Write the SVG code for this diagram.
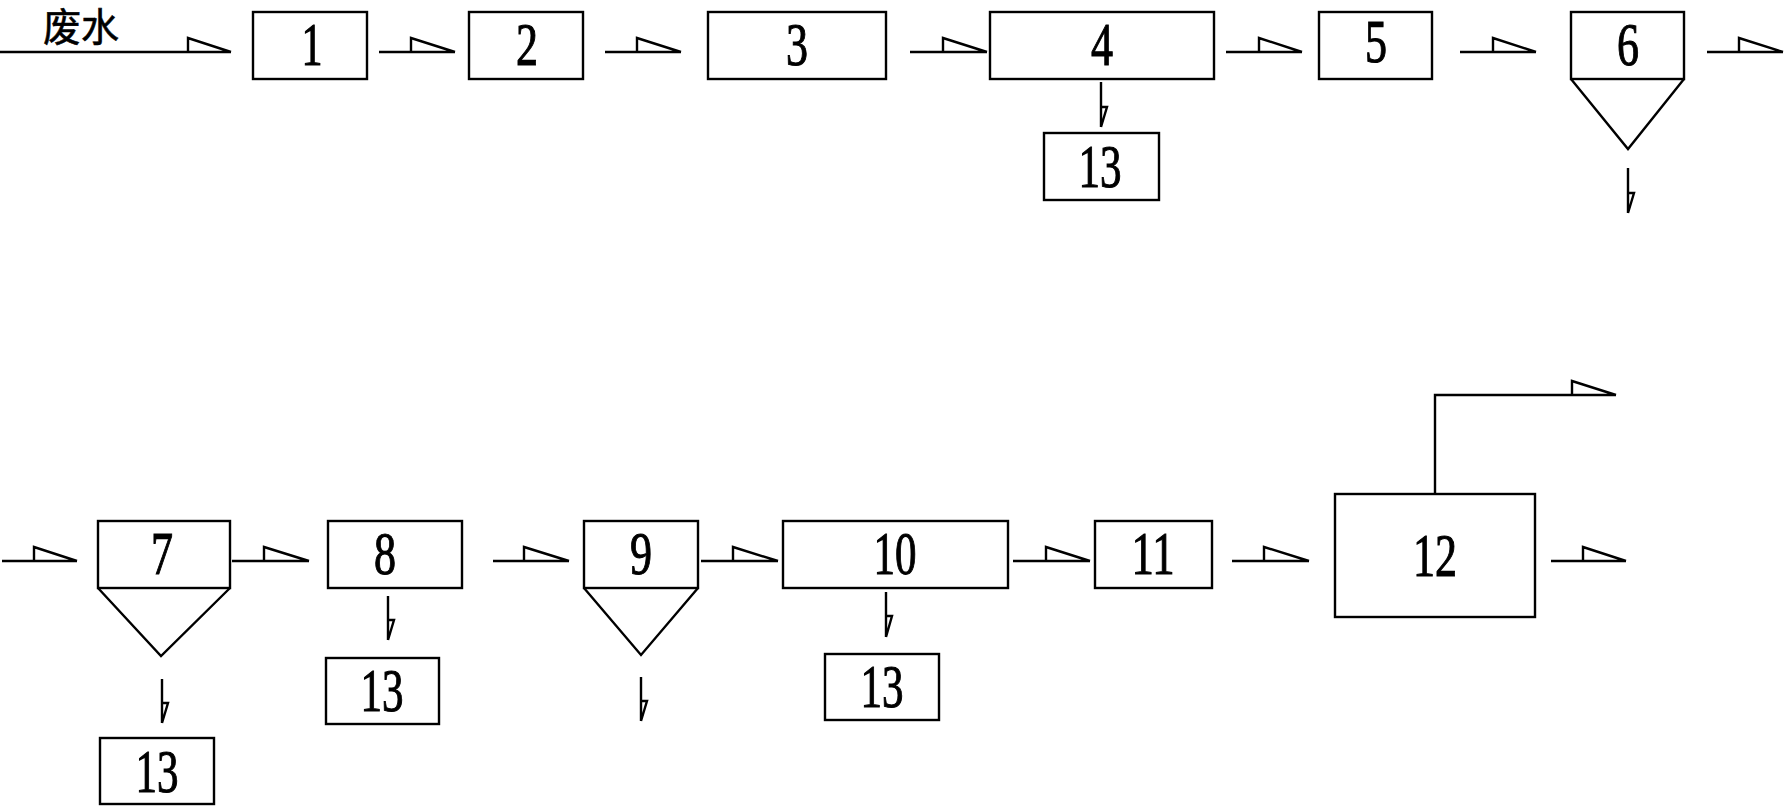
<svg xmlns="http://www.w3.org/2000/svg" width="1784" height="807" viewBox="0 0 1784 807">
<style>
  .box{fill:#fff;stroke:#000;stroke-width:2.4}
  .fun{fill:none;stroke:#000;stroke-width:2.4;stroke-linejoin:miter}
  .con{fill:none;stroke:#000;stroke-width:2.4;stroke-linejoin:miter;stroke-linecap:butt}
  .num{font-family:"Liberation Serif","Times New Roman",serif;font-size:62px;fill:#000;stroke:#000;stroke-width:1.1;text-anchor:middle}
  .cn{font-family:"Noto Sans CJK SC","Noto Sans",sans-serif;font-size:39px;fill:#000;stroke:#000;stroke-width:0.6}
</style>
<rect width="1784" height="807" fill="#fff"/>
<text class="cn" x="43" y="41" textLength="76" lengthAdjust="spacingAndGlyphs">废水</text>
<g id="connectors">
  <path class="con" d="M0 52H231M188 52V38L231 52"/>
  <path class="con" d="M379 52H455M411 52V38L455 52"/>
  <path class="con" d="M605 52H681M637 52V38L681 52"/>
  <path class="con" d="M910 52H987M943 52V38L987 52"/>
  <path class="con" d="M1226 52H1302M1259 52V38L1302 52"/>
  <path class="con" d="M1460 52H1536M1493 52V38L1536 52"/>
  <path class="con" d="M1707 52H1783M1739 52V38L1783 52"/>
  <path class="con" d="M1101 82V127M1101 107H1107L1101 127"/>
  <path class="con" d="M1628 168V213M1628 193H1634L1628 213"/>
  <path class="con" d="M2 561H77M34 561V547L77 561"/>
  <path class="con" d="M232 561H309M264 561V547L309 561"/>
  <path class="con" d="M493 561H569M524 561V547L569 561"/>
  <path class="con" d="M701 561H778M733 561V547L778 561"/>
  <path class="con" d="M1013 561H1090M1046 561V547L1090 561"/>
  <path class="con" d="M1232 561H1309M1264 561V547L1309 561"/>
  <path class="con" d="M1551 561H1626M1583 561V547L1626 561"/>
  <path class="con" d="M1435 494V395H1616M1572 395V381L1616 395"/>
  <path class="con" d="M162 679V723M162 703H168L162 723"/>
  <path class="con" d="M388 596V640M388 620H394L388 640"/>
  <path class="con" d="M641 677V721M641 701H647L641 721"/>
  <path class="con" d="M886 592V637M886 616H892L886 637"/>
</g>
<g id="n1"><rect class="box" x="253" y="12" width="114" height="67"/><text class="num" x="312" y="65" textLength="21" lengthAdjust="spacingAndGlyphs">1</text></g>
<g id="n2"><rect class="box" x="469" y="12" width="114" height="67"/><text class="num" x="527" y="65" textLength="22" lengthAdjust="spacingAndGlyphs">2</text></g>
<g id="n3"><rect class="box" x="708" y="12" width="178" height="67"/><text class="num" x="797" y="65" textLength="22" lengthAdjust="spacingAndGlyphs">3</text></g>
<g id="n4"><rect class="box" x="990" y="12" width="224" height="67"/><text class="num" x="1102" y="65" textLength="22" lengthAdjust="spacingAndGlyphs">4</text></g>
<g id="n13a"><rect class="box" x="1044" y="133" width="115" height="67"/><text class="num" x="1100" y="187" textLength="43" lengthAdjust="spacingAndGlyphs">13</text></g>
<g id="n5"><rect class="box" x="1319" y="12" width="113" height="67"/><text class="num" x="1376" y="62" textLength="22" lengthAdjust="spacingAndGlyphs">5</text></g>
<g id="n6"><rect class="box" x="1571" y="12" width="113" height="67"/><path class="fun" d="M1571 79L1628 149L1684 79"/><text class="num" x="1628" y="65" textLength="22" lengthAdjust="spacingAndGlyphs">6</text></g>
<g id="n7"><rect class="box" x="98" y="521" width="132" height="67"/><path class="fun" d="M98 588L161 656L230 588"/><text class="num" x="162" y="574" textLength="22" lengthAdjust="spacingAndGlyphs">7</text></g>
<g id="n13b"><rect class="box" x="100" y="738" width="114" height="66"/><text class="num" x="157" y="792" textLength="43" lengthAdjust="spacingAndGlyphs">13</text></g>
<g id="n8"><rect class="box" x="328" y="521" width="134" height="67"/><text class="num" x="385" y="574" textLength="22" lengthAdjust="spacingAndGlyphs">8</text></g>
<g id="n13c"><rect class="box" x="326" y="658" width="113" height="66"/><text class="num" x="382" y="711" textLength="43" lengthAdjust="spacingAndGlyphs">13</text></g>
<g id="n9"><rect class="box" x="584" y="521" width="114" height="67"/><path class="fun" d="M584 588L641 655L698 588"/><text class="num" x="641" y="574" textLength="22" lengthAdjust="spacingAndGlyphs">9</text></g>
<g id="n10"><rect class="box" x="783" y="521" width="225" height="67"/><text class="num" x="895" y="574" textLength="43" lengthAdjust="spacingAndGlyphs">10</text></g>
<g id="n13d"><rect class="box" x="825" y="654" width="114" height="66"/><text class="num" x="882" y="707" textLength="43" lengthAdjust="spacingAndGlyphs">13</text></g>
<g id="n11"><rect class="box" x="1095" y="521" width="117" height="67"/><text class="num" x="1153" y="574" textLength="43" lengthAdjust="spacingAndGlyphs">11</text></g>
<g id="n12"><rect class="box" x="1335" y="494" width="200" height="123"/><text class="num" x="1435" y="576" textLength="44" lengthAdjust="spacingAndGlyphs">12</text></g>
</svg>
